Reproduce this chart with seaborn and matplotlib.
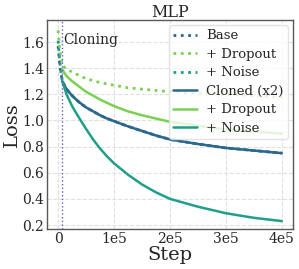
import numpy as np
import pandas as pd
import matplotlib
matplotlib.use("Agg")
import matplotlib.pyplot as plt
from matplotlib.ticker import FuncFormatter
import seaborn as sns

# Step where cloning happens
clone_step = 7500

# Pre-cloning (dotted) curves, 0 -> clone_step
pre_steps = [0, 2500, 5000, clone_step]
base_pre = [1.57, 1.45, 1.36, 1.30]
drop_pre = [1.69, 1.56, 1.48, 1.42]
noise_pre = [1.61, 1.47, 1.37, 1.30]

post_steps = [clone_step, 15000, 25000, 37500, 50000, 62500, 75000, 87500, 100000,
              125000, 150000, 175000, 200000, 250000, 300000, 350000, 400000]

# Base models keep training (dotted)
base_post = [1.30, 1.24, 1.19, 1.14, 1.10, 1.07, 1.04, 1.015, 0.995,
             0.955, 0.92, 0.885, 0.855, 0.82, 0.79, 0.77, 0.75]
drop_post = [1.42, 1.395, 1.37, 1.345, 1.32, 1.305, 1.29, 1.28, 1.27,
             1.25, 1.24, 1.23, 1.22, 1.21, 1.20, 1.19, 1.18]
noise_post = base_post

# Cloned (x2) models (solid)
cl_base = base_post
cl_drop = [1.39, 1.34, 1.30, 1.26, 1.22, 1.19, 1.16, 1.135, 1.11,
           1.07, 1.04, 1.015, 0.99, 0.96, 0.93, 0.915, 0.90]
cl_noise = [1.30, 1.20, 1.11, 1.02, 0.935, 0.855, 0.785, 0.725, 0.672,
            0.585, 0.51, 0.45, 0.40, 0.34, 0.29, 0.255, 0.23]

c_base = "#2f6690"
c_drop = "#7ad151"
c_noise = "#1f9e89"

sns.set_style("whitegrid", {"grid.linestyle": "--", "grid.color": "#e0e0e0"})
plt.rcParams["font.family"] = ["DejaVu Serif"]

fig = plt.figure(figsize=(2.99, 2.69), dpi=100)
ax = fig.add_axes([0.157, 0.149, 0.823, 0.777])

steps_base = pre_steps + post_steps[1:]
n = len(steps_base)
dotted = pd.DataFrame({
    "step": steps_base * 3,
    "loss": base_pre + base_post[1:] + drop_pre + drop_post[1:] + noise_pre + noise_post[1:],
    "run": ["Base"] * n + ["+ Dropout "] * n + ["+ Noise "] * n,
})
m = len(post_steps)
solid = pd.DataFrame({
    "step": post_steps * 3,
    "loss": cl_base + cl_drop + cl_noise,
    "run": ["Cloned (x2)"] * m + ["+ Dropout"] * m + ["+ Noise"] * m,
})

sns.lineplot(data=dotted, x="step", y="loss", hue="run", ax=ax,
             palette=[c_base, c_drop, c_noise], linestyle=":", linewidth=2)
sns.lineplot(data=solid, x="step", y="loss", hue="run", ax=ax,
             palette=[c_base, c_drop, c_noise], linewidth=1.8)

ax.axvline(clone_step, color="#6a5acd", linestyle=":", linewidth=1)
ax.text(clone_step + 2500, 1.62, "Cloning", fontsize=10, va="center")

ax.set_xlim(-20000, 420000)
ax.set_ylim(0.17, 1.77)
ax.set_xticks([0, 100000, 200000, 300000, 400000])
ax.set_yticks([0.2, 0.4, 0.6, 0.8, 1.0, 1.2, 1.4, 1.6])
ax.xaxis.set_major_formatter(FuncFormatter(lambda v, p: "0" if v == 0 else f"{int(round(v / 1e5))}e5"))
ax.tick_params(labelsize=10, pad=2, length=0)
ax.set_xlabel("Step", fontsize=14, labelpad=0)
ax.set_ylabel("Loss", fontsize=14, labelpad=1)
ax.set_title("MLP", fontsize=11.5, pad=2)

for s in ax.spines.values():
    s.set_color("0.35")
    s.set_linewidth(1)

h, l = ax.get_legend_handles_labels()
for hh in h[:3]:
    hh.set_linestyle(":")
leg = ax.legend(h, [x.strip() for x in l], loc="upper right", fontsize=9.5, framealpha=0.8,
                handlelength=1.8, borderpad=0.3, labelspacing=0.42, handletextpad=0.7,
                borderaxespad=0.4)
leg.get_frame().set_edgecolor("#dddddd")

fig.savefig("out.png", dpi=100)
